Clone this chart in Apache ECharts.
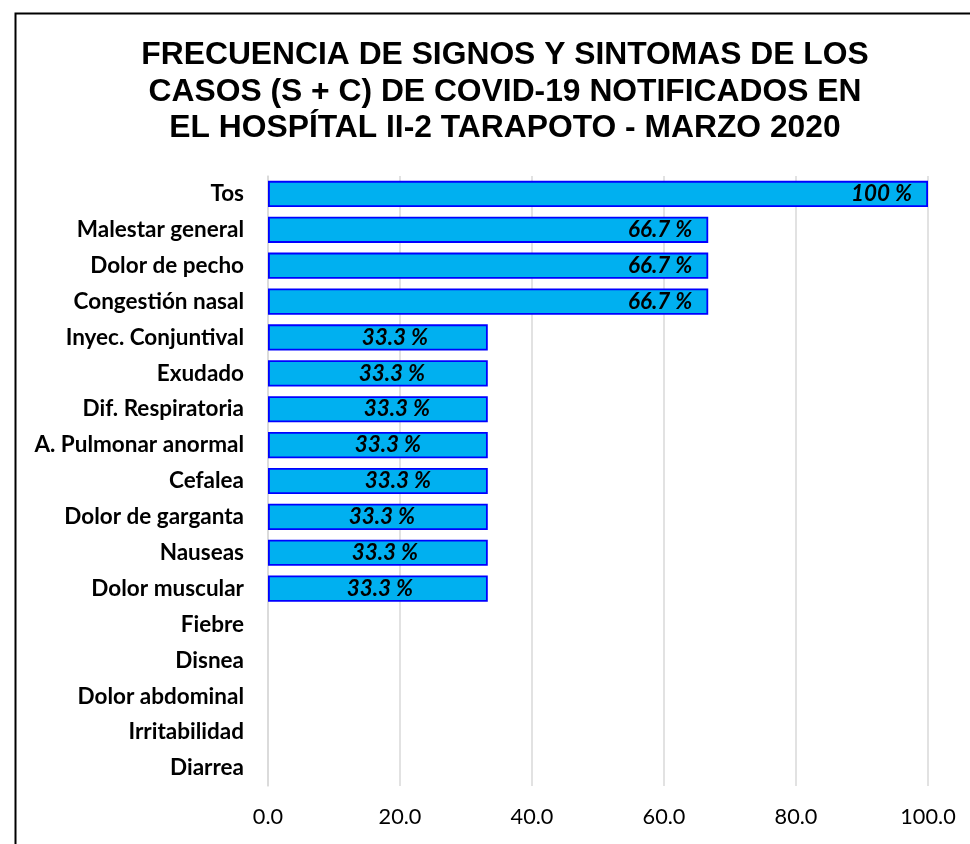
<!DOCTYPE html>
<html><head><meta charset="utf-8">
<script src="https://cdn.jsdelivr.net/npm/echarts@6/dist/echarts.min.js"></script>
<style>html,body{margin:0;padding:0;background:#fff}#c{width:970px;height:844px}</style>
</head><body><div id="c"></div>
<script>
const titleText = "FRECUENCIA DE SIGNOS Y SINTOMAS DE LOS\nCASOS (S + C) DE COVID-19 NOTIFICADOS EN\nEL HOSPÍTAL II-2 TARAPOTO - MARZO 2020";
const categories = ["Tos","Malestar general","Dolor de pecho","Congestión nasal","Inyec. Conjuntival","Exudado","Dif. Respiratoria","A. Pulmonar anormal","Cefalea","Dolor de garganta","Nauseas","Dolor muscular","Fiebre","Disnea","Dolor abdominal","Irritabilidad","Diarrea"];
const values = [100,66.7,66.7,66.7,33.3,33.3,33.3,33.3,33.3,33.3,33.3,33.3,0,0,0,0,0];
const xTicks = [0,20,40,60,80,100];
// label nudges (style only, px)
const labelNudge = [0,0,0,0,17,14,19,10,20,4,7,2,0,0,0,0,0];

const chart = echarts.init(document.getElementById('c'));
const data = values.map((v,i)=>{
  if (v===0) return {value:null};
  const big = v>50;
  return {value:v, label:{show:true, position: big?'insideRight':'inside', distance:16, offset:[big?0:labelNudge[i],0]}};
});
chart.setOption({
  animation:false,
  title:{text:titleText,left:500,top:32,textAlign:'center',textStyle:{fontFamily:'Liberation Sans',fontWeight:'bold',fontSize:31.8,lineHeight:36.5,color:'#000'}},
  graphic:[{type:'rect',shape:{x:15.5,y:13.5,width:1000,height:1000},style:{fill:'none',stroke:'#000',lineWidth:2},silent:true}],
  grid:{left:268,right:42,top:176,bottom:58,containLabel:false},
  xAxis:{type:'value',min:0,max:100,interval:20,
    axisLine:{show:false},axisTick:{show:false},
    splitLine:{lineStyle:{color:'#D9D9D9',width:1.5}},
    axisLabel:{formatter:v=>v.toFixed(1),fontFamily:'Lato',fontSize:21.7,color:'#000',margin:20}},
  yAxis:{type:'category',data:categories,inverse:true,
    axisLine:{show:true,lineStyle:{color:'#D9D9D9',width:1.5}},axisTick:{show:false},
    axisLabel:{fontFamily:'Lato',fontWeight:'bold',fontSize:22.5,color:'#000',margin:24}},
  series:[{type:'bar',data:data,barCategoryGap:'27%',
    itemStyle:{color:'#00B0F0',borderColor:'#0000FF',borderWidth:1.8},
    label:{show:false,formatter:p=>p.value+' %',fontFamily:'Lato',fontStyle:'italic',fontWeight:'bold',fontSize:22.4,color:'#000'}}]
});
</script></body></html>
